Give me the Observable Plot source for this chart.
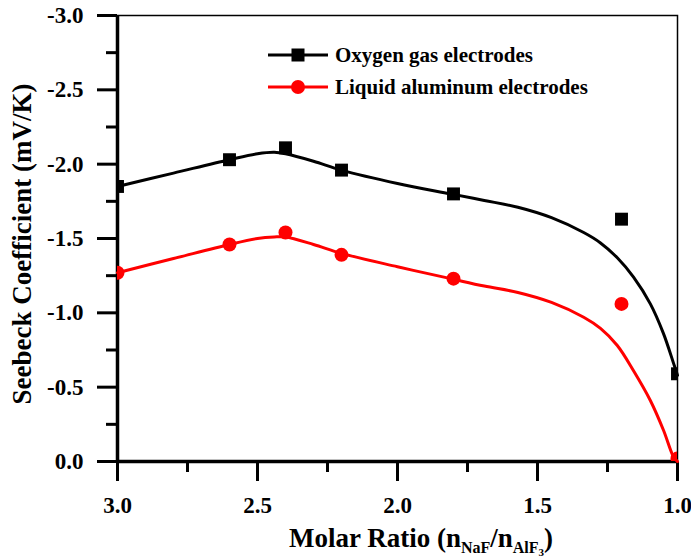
<!DOCTYPE html>
<html>
<head>
<meta charset="utf-8">
<script src="https://cdn.jsdelivr.net/npm/d3@7"></script>
<script src="https://cdn.jsdelivr.net/npm/@observablehq/plot@0.6"></script>
<style>
  html, body { margin: 0; padding: 0; background: #fff; }
  #chart { width: 691px; height: 558px; }
</style>
</head>
<body>
<div id="chart"></div>
<script>
// ---- data ----
const molarRatio = [3.0, 2.6, 2.4, 2.2, 1.8, 1.2, 1.0];
const oxygenValues = [-1.85, -2.03, -2.11, -1.96, -1.80, -1.63, -0.59];
const aluminumValues = [-1.27, -1.46, -1.54, -1.39, -1.23, -1.06, -0.02];

// fitted curves
const oxygenCurveX = [3.0, 2.8, 2.6, 2.5, 2.44, 2.4, 2.3, 2.2, 2.0, 1.81, 1.69, 1.57, 1.45, 1.335, 1.275, 1.215, 1.157, 1.097, 1.05, 1.014, 1.0];
const oxygenCurveY = [-1.85, -1.94, -2.03, -2.07, -2.08, -2.07, -2.02, -1.96, -1.87, -1.80, -1.756, -1.71, -1.64, -1.54, -1.47, -1.37, -1.24, -1.06, -0.86, -0.66, -0.58];
const aluminumCurveX = [3.0, 2.8, 2.6, 2.5, 2.44, 2.4, 2.3, 2.2, 2.0, 1.81, 1.69, 1.57, 1.45, 1.335, 1.275, 1.215, 1.157, 1.097, 1.05, 1.014, 1.0];
const aluminumCurveY = [-1.27, -1.365, -1.46, -1.50, -1.51, -1.51, -1.46, -1.40, -1.31, -1.23, -1.18, -1.137, -1.07, -0.97, -0.895, -0.78, -0.61, -0.41, -0.21, -0.03, 0.0];

const xMajorTicks = [3.0, 2.5, 2.0, 1.5, 1.0];
const xMinorTicks = [2.75, 2.25, 1.75, 1.25];
const yMajorTicks = [0.0, -0.5, -1.0, -1.5, -2.0, -2.5, -3.0];
const yMinorTicks = [-0.25, -0.75, -1.25, -1.75, -2.25, -2.75];
const xDomain = [3.0, 1.0];
const yDomain = [0.0, -3.0];

const seriesNames = ["Oxygen gas electrodes", "Liquid aluminum electrodes"];
const seriesColors = ["#000000", "#ff0000"];

const pts = (xs, ys) => xs.map((x, i) => ({x, y: ys[i]}));
const oxygen = pts(molarRatio, oxygenValues);
const aluminum = pts(molarRatio, aluminumValues);
const oxygenCurve = pts(oxygenCurveX, oxygenCurveY);
const aluminumCurve = pts(aluminumCurveX, aluminumCurveY);

const fmt = d => d.toFixed(1);
const FONT = "Liberation Serif";
const labelStyle = "font-family:'Liberation Serif', serif;font-size:23px;font-weight:bold;fill:#000";

const svg = Plot.plot({
  width: 691,
  height: 558,
  marginLeft: 117,
  marginRight: 14,
  marginTop: 15,
  marginBottom: 97,
  x: {domain: xDomain, axis: null},
  y: {domain: yDomain, axis: null},
  marks: [
    Plot.axisX(xMajorTicks, {tickSize: 20, strokeWidth: 3, tickFormat: () => "", label: null}),
    Plot.axisX(xMinorTicks, {tickSize: 11, strokeWidth: 3, tickFormat: () => "", label: null}),
    Plot.axisY(yMajorTicks, {tickSize: 20, strokeWidth: 3, tickFormat: () => "", label: null}),
    Plot.axisY(yMinorTicks, {tickSize: 11, strokeWidth: 3, tickFormat: () => "", label: null}),
    Plot.text(xMajorTicks, {x: d => d, text: fmt, frameAnchor: "bottom", dy: 51, lineAnchor: "bottom", textAnchor: "middle", fontFamily: FONT, fontSize: 23, fontWeight: "bold"}),
    Plot.text(yMajorTicks, {y: d => d, text: fmt, frameAnchor: "left", dx: -34, lineAnchor: "middle", textAnchor: "end", fontFamily: FONT, fontSize: 23, fontWeight: "bold"}),
    Plot.frame({stroke: "#000", strokeWidth: 1.5}),
    Plot.ruleX([xDomain[0]], {stroke: "#000", strokeWidth: 3.5}),
    Plot.ruleY([yDomain[0]], {stroke: "#000", strokeWidth: 3.5}),
    Plot.line(oxygenCurve, {x: "x", y: "y", curve: "catmull-rom", stroke: seriesColors[0], strokeWidth: 3}),
    Plot.line(aluminumCurve, {x: "x", y: "y", curve: "catmull-rom", stroke: seriesColors[1], strokeWidth: 3}),
    Plot.dot(oxygen, {x: "x", y: "y", symbol: "square", r: 7.3, fill: seriesColors[0], stroke: "none", clip: "frame"}),
    Plot.dot(aluminum, {x: "x", y: "y", symbol: "circle", r: 7, fill: seriesColors[1], stroke: "none", clip: "frame"})
  ]
});

const s = d3.select(svg);
s.selectAll("g[aria-label=text] text").attr("style", labelStyle);
const fontStyle = size => `font-family:'Liberation Serif', serif;font-size:${size}px;font-weight:bold;fill:#000`;

// y axis title
s.append("text")
  .attr("transform", "translate(31,244) rotate(-90)")
  .attr("style", fontStyle(27) + ";text-anchor:middle")
  .text("Seebeck Coefficient (mV/K)");

// x axis title with subscripts
const xt = s.append("text")
  .attr("x", 421).attr("y", 547)
  .attr("style", fontStyle(27) + ";text-anchor:middle");
xt.append("tspan").text("Molar Ratio (n");
xt.append("tspan").attr("style", "font-size:16px").attr("dy", 6).text("NaF");
xt.append("tspan").attr("dy", -6).text("/n");
xt.append("tspan").attr("style", "font-size:16px").attr("dy", 6).text("AlF");
xt.append("tspan").attr("style", "font-size:11px").attr("dy", 3).text("3");
xt.append("tspan").attr("dy", -9).text(")");

// legend
const legendY = [55, 87];
seriesNames.forEach((name, i) => {
  const g = s.append("g");
  g.append("line").attr("x1", 268).attr("x2", 328).attr("y1", legendY[i]).attr("y2", legendY[i])
    .attr("stroke", seriesColors[i]).attr("stroke-width", 3);
  if (i === 0) {
    g.append("rect").attr("x", 298 - 6.5).attr("y", legendY[i] - 6.5).attr("width", 13).attr("height", 13)
      .attr("fill", seriesColors[i]);
  } else {
    g.append("circle").attr("cx", 298).attr("cy", legendY[i]).attr("r", 7).attr("fill", seriesColors[i]);
  }
  g.append("text").attr("x", 335).attr("y", legendY[i] + 7)
    .attr("style", fontStyle(21) + ";text-anchor:start")
    .text(name);
});

document.getElementById("chart").appendChild(svg);
</script>
</body>
</html>
